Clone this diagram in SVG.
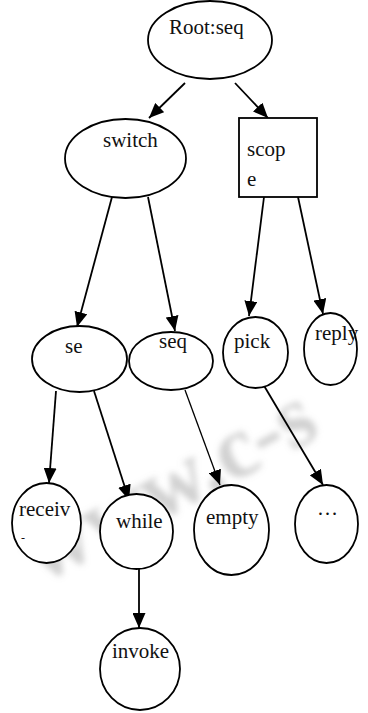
<svg xmlns="http://www.w3.org/2000/svg" width="368" height="713" viewBox="0 0 368 713">
  <style>
    .shape { fill: #ffffff; stroke: #000000; stroke-width: 1.8; }
    .lbl { font-family: "Liberation Serif", "Times New Roman", serif; font-size: 21px; fill: #111111; }
    .edge { stroke: #000000; stroke-width: 1.8; fill: none; marker-end: url(#arrow); }
    .thin { stroke-width: 1.3; }
    .wm { font-family: "Liberation Serif", serif; font-weight: bold; font-size: 90px; fill: #9a9a9a; opacity: 0.45; }
  </style>
  <defs>
    <marker id="arrow" markerUnits="userSpaceOnUse" markerWidth="15" markerHeight="13" refX="15" refY="6.5" orient="auto">
      <path d="M0,0 L15,6.5 L0,13 z" fill="#000000"/>
    </marker>
    <filter id="blur" x="-10%" y="-10%" width="120%" height="120%">
      <feGaussianBlur stdDeviation="3"/>
    </filter>
  </defs>
  <rect width="368" height="713" fill="#ffffff"/>

  <g id="watermark" filter="url(#blur)">
    <text class="wm" transform="translate(42,584) rotate(-28)">www.c-s</text>
  </g>

  <g id="connectors">
    <line class="edge" x1="185" y1="83" x2="149" y2="118"/>
    <line class="edge" x1="235" y1="83" x2="268" y2="118"/>
    <line class="edge" x1="112" y1="197" x2="77" y2="327"/>
    <line class="edge" x1="148" y1="197" x2="175" y2="331"/>
    <line class="edge" x1="264" y1="197" x2="249" y2="316"/>
    <line class="edge" x1="298" y1="197" x2="323" y2="314"/>
    <line class="edge" x1="56" y1="391" x2="49" y2="483"/>
    <line class="edge" x1="94" y1="391" x2="129" y2="500"/>
    <line class="edge thin" x1="185" y1="390" x2="220" y2="485"/>
    <line class="edge" x1="263" y1="384" x2="323" y2="485"/>
    <line class="edge" x1="139" y1="569" x2="139" y2="628"/>
  </g>

  <g id="node-root">
    <ellipse class="shape" cx="210" cy="40" rx="62" ry="39"/>
    <text class="lbl" x="169" y="34">Root:seq</text>
  </g>
  <g id="node-switch">
    <ellipse class="shape" cx="125.5" cy="158.5" rx="60.5" ry="39.5"/>
    <text class="lbl" x="103" y="147">switch</text>
  </g>
  <g id="node-scope">
    <rect class="shape" x="239" y="118" width="78" height="79"/>
    <text class="lbl" x="247" y="156">scop</text>
    <text class="lbl" x="247" y="186">e</text>
  </g>
  <g id="node-se">
    <ellipse class="shape" cx="79.5" cy="359" rx="47.5" ry="33"/>
    <text class="lbl" x="65" y="353">se</text>
  </g>
  <g id="node-seq">
    <ellipse class="shape" cx="171" cy="361" rx="42" ry="29"/>
    <text class="lbl" x="159" y="348">seq</text>
  </g>
  <g id="node-pick">
    <ellipse class="shape" cx="255.5" cy="352.5" rx="32.5" ry="35.5"/>
    <text class="lbl" x="234" y="348">pick</text>
  </g>
  <g id="node-reply">
    <ellipse class="shape" cx="330.5" cy="349" rx="26.5" ry="36"/>
    <text class="lbl" x="315" y="340">reply</text>
  </g>
  <g id="node-receive">
    <ellipse class="shape" cx="46.5" cy="523" rx="34.5" ry="40"/>
    <text class="lbl" x="19" y="516">receiv</text>
    <text class="lbl" x="21" y="542" style="font-size:12px">-</text>
  </g>
  <g id="node-while">
    <ellipse class="shape" cx="136.5" cy="531.5" rx="36.5" ry="37.5"/>
    <text class="lbl" x="116" y="528">while</text>
  </g>
  <g id="node-empty">
    <ellipse class="shape" cx="231.5" cy="530" rx="37.5" ry="45"/>
    <text class="lbl" x="206" y="524">empty</text>
  </g>
  <g id="node-more">
    <ellipse class="shape" cx="326.5" cy="524" rx="31.5" ry="39"/>
    <text class="lbl" x="317" y="515">…</text>
  </g>
  <g id="node-invoke">
    <ellipse class="shape" cx="140" cy="669" rx="40" ry="41"/>
    <text class="lbl" x="112" y="658">invoke</text>
  </g>
</svg>
